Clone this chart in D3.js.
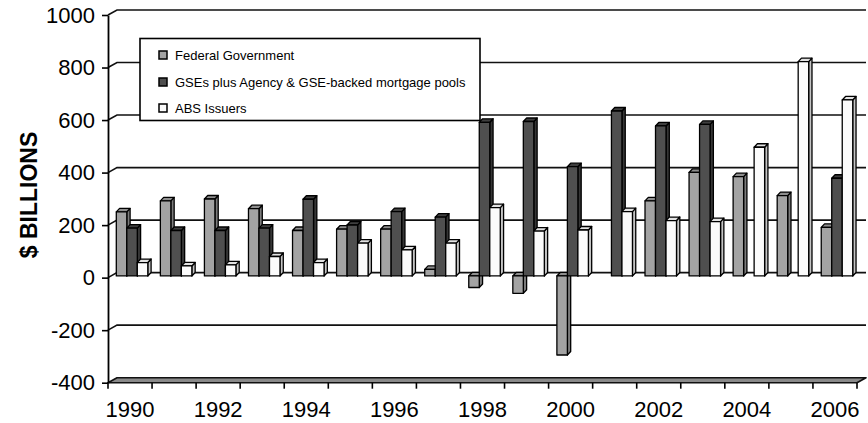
<!DOCTYPE html>
<html>
<head>
<meta charset="utf-8">
<script src="https://cdn.jsdelivr.net/npm/d3@7"></script>
<style>
  html, body { margin: 0; padding: 0; background: #fff; }
  svg { display: block; font-family: "Liberation Sans", Arial, Helvetica, sans-serif; }
</style>
</head>
<body>
<svg id="chart" width="868" height="423"></svg>
<script>
// Net borrowing by sector, $ billions
const years = [1990, 1991, 1992, 1993, 1994, 1995, 1996, 1997, 1998, 1999,
               2000, 2001, 2002, 2003, 2004, 2005, 2006];
const federalGovernment = [244, 286, 293, 256, 173, 178, 178, 25, -44, -66,
                           -301, 0, 286, 394, 378, 306, 185];
const gsePools = [182, 173, 173, 182, 292, 194, 245, 224, 585, 588,
                  416, 628, 571, 577, 0, 0, 372];
const absIssuers = [51, 38, 42, 74, 51, 125, 99, 125, 260, 171,
                    175, 245, 211, 207, 490, 816, 670];
const seriesNames = ["Federal Government",
                     "GSEs plus Agency & GSE-backed mortgage pools",
                     "ABS Issuers"];
const yTicks = [-400, -200, 0, 200, 400, 600, 800, 1000];
const xLabelYears = [1990, 1992, 1994, 1996, 1998, 2000, 2002, 2004, 2006];

const seriesValues = [federalGovernment, gsePools, absIssuers];
const faceColors = [
  { front: "#a3a3a3", side: "#7c7c7c", top: "#8e8e8e" },
  { front: "#4f4f4f", side: "#363636", top: "#3f3f3f" },
  { front: "#fbfbfb", side: "#c4c4c4", top: "#e2e2e2" }
];

const svg = d3.select("#chart");

// plot frame: front plane and oblique depth offset of the back wall
const plotL = 108, plotR = 857, plotT = 15, plotB = 382.7;
const wallDX = 9, wallDY = -5;
// bars sit mid-depth: front face offset and bar depth
const barFX = 0, barFY = -1.7, barDX = 3.3, barDY = -3.5;

const x = d3.scaleBand().domain(years).range([plotL, plotR]).padding(0);
const xInner = d3.scaleBand().domain([0, 1, 2]).range([8.3, 8.3 + 31.5]).padding(0);
const y = d3.scaleLinear().domain([-400, 1000]).range([plotB, plotT]);

// back-wall gridlines with their oblique joins to the value axis
const grid = svg.append("g");
yTicks.filter(v => v > -400).forEach(v => {
  const yy = y(v);
  grid.append("path")
    .attr("d", `M${plotL},${yy} L${plotL + wallDX},${yy + wallDY} L${plotR + wallDX},${yy + wallDY}`)
    .attr("fill", "none").attr("stroke", "#111").attr("stroke-width", 1.6);
});

// floor slab at the bottom of the value range
const yf = y(-400);
svg.append("path")
  .attr("d", `M${plotL},${yf} L${plotR},${yf} L${plotR + wallDX},${yf + wallDY} L${plotL + wallDX},${yf + wallDY} Z`)
  .attr("fill", "#8a8a8a").attr("stroke", "#111").attr("stroke-width", 1.6)
  .attr("stroke-linejoin", "round");

// 3D columns (zero values leave no column)
const bars = svg.append("g").attr("stroke", "#000").attr("stroke-width", 1.3)
  .attr("stroke-linejoin", "round");
years.forEach((yr, i) => {
  seriesValues.forEach((vals, s) => {
    const v = vals[i];
    if (v === 0) return;
    const c = faceColors[s];
    const x0 = x(yr) + xInner(s) + barFX;
    const x1 = x0 + xInner.bandwidth();
    const yTop = y(Math.max(v, 0)) + barFY;
    const yBot = y(Math.min(v, 0)) + barFY;
    // side face
    bars.append("path")
      .attr("d", `M${x1},${yTop} L${x1 + barDX},${yTop + barDY} L${x1 + barDX},${yBot + barDY} L${x1},${yBot} Z`)
      .attr("fill", c.side);
    // top face
    bars.append("path")
      .attr("d", `M${x0},${yTop} L${x0 + barDX},${yTop + barDY} L${x1 + barDX},${yTop + barDY} L${x1},${yTop} Z`)
      .attr("fill", c.top);
    // front face
    bars.append("rect")
      .attr("x", x0).attr("y", yTop)
      .attr("width", x1 - x0).attr("height", yBot - yTop)
      .attr("fill", c.front);
  });
});

// value axis (plain hyphen for negatives)
const yAxis = svg.append("g")
  .attr("transform", `translate(${plotL},0)`)
  .call(d3.axisLeft(y).tickValues(yTicks).tickSize(6).tickSizeOuter(0).tickPadding(7)
        .tickFormat(d => String(d)));
yAxis.select(".domain").attr("stroke", "#000").attr("stroke-width", 1.8);
yAxis.selectAll(".tick line").attr("stroke", "#000").attr("stroke-width", 1.6);
yAxis.selectAll(".tick text").attr("font-size", 22).attr("fill", "#000")
  .attr("font-family", "'Liberation Sans', Arial, sans-serif");

// category axis: boundary ticks and alternate year labels
const xAxis = svg.append("g").attr("transform", `translate(0,${plotB})`);
const bounds = years.map(yr => x(yr)).concat([x(years[years.length - 1]) + x.step()]);
xAxis.selectAll("line.tk").data(bounds).join("line")
  .attr("x1", d => d).attr("x2", d => d).attr("y1", 0).attr("y2", 6)
  .attr("stroke", "#000").attr("stroke-width", 1.6);
xAxis.selectAll("text").data(xLabelYears).join("text")
  .attr("x", d => x(d) + x.bandwidth() / 2)
  .attr("y", 34)
  .attr("text-anchor", "middle")
  .attr("font-size", 22)
  .text(d => d);

// axis title
svg.append("text")
  .attr("transform", "translate(37,195) rotate(-90)")
  .attr("text-anchor", "middle")
  .attr("font-size", 23)
  .attr("font-weight", "bold")
  .text("$ BILLIONS");

// legend
const lg = svg.append("g");
lg.append("rect").attr("x", 140).attr("y", 38.5).attr("width", 340).attr("height", 82)
  .attr("fill", "#fff").attr("stroke", "#000").attr("stroke-width", 1.6);
const legendY = [55, 82, 108];
seriesNames.forEach((name, s) => {
  lg.append("rect").attr("x", 159).attr("y", legendY[s] - 4).attr("width", 8).attr("height", 8)
    .attr("fill", faceColors[s].front).attr("stroke", "#000").attr("stroke-width", 1.5);
  lg.append("text").attr("x", 175).attr("y", legendY[s]).attr("dy", "0.36em")
    .attr("font-size", 13).text(name);
});
</script>
</body>
</html>
